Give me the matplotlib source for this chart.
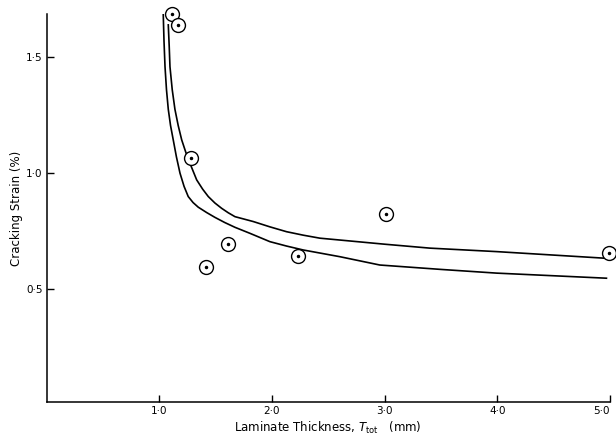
import matplotlib
matplotlib.use("Agg")
import matplotlib.pyplot as plt

# Data
pts_x = [1.113, 1.163, 1.281, 1.412, 1.61, 2.233, 3.011, 4.99]
pts_y = [1.687, 1.641, 1.066, 0.592, 0.694, 0.643, 0.823, 0.654]

upper_x = [1.080, 1.088, 1.095, 1.115, 1.139, 1.168, 1.199, 1.235, 1.272, 1.332,
           1.385, 1.435, 1.494, 1.554, 1.612, 1.672, 1.834, 1.982,
           2.130, 2.278, 2.426, 2.603, 3.000, 3.402, 3.994, 4.970]
upper_y = [1.640, 1.550, 1.459, 1.360, 1.275, 1.205, 1.143, 1.090, 1.042, 0.970,
           0.930, 0.898, 0.870, 0.847, 0.828, 0.811, 0.790, 0.767,
           0.746, 0.731, 0.718, 0.710, 0.692, 0.675, 0.660, 0.631]

lower_x = [1.035, 1.042, 1.051, 1.064, 1.080, 1.100, 1.124, 1.152, 1.184, 1.220,
           1.257, 1.300, 1.346, 1.420, 1.494, 1.580, 1.672, 1.805,
           1.982, 2.130, 2.278, 2.603, 2.958, 3.500, 3.994, 4.970]
lower_y = [1.690, 1.570, 1.459, 1.360, 1.275, 1.205, 1.143, 1.070, 0.999, 0.942,
           0.898, 0.872, 0.852, 0.829, 0.808, 0.786, 0.765, 0.739,
           0.703, 0.684, 0.667, 0.638, 0.602, 0.583, 0.567, 0.545]

xticks = [1.0, 2.0, 3.0, 4.0, 5.0]
xticklabels = ["1·0", "2·0", "3·0", "4·0", "5·0"]
yticks = [0.5, 1.0, 1.5]
yticklabels = ["0·5", "1·0", "1·5"]

fig = plt.figure(figsize=(6.16, 4.46), dpi=100)
ax = fig.add_axes([0.0757, 0.0987, 0.9143, 0.8699])

ax.plot(upper_x, upper_y, color="black", lw=1.2, solid_joinstyle="round")
ax.plot(lower_x, lower_y, color="black", lw=1.2, solid_joinstyle="round")
ax.plot(pts_x, pts_y, linestyle="none", marker="o", markersize=10,
        markerfacecolor="white", markeredgecolor="black", markeredgewidth=1.0,
        clip_on=False, zorder=3)
ax.plot(pts_x, pts_y, linestyle="none", marker="o", markersize=1.5,
        color="black", clip_on=False, zorder=4)

ax.set_xlim(0, 5.0)
ax.set_ylim(0.01, 1.687)
ax.spines["top"].set_visible(False)
ax.spines["right"].set_visible(False)
ax.spines["left"].set_linewidth(1.1)
ax.spines["bottom"].set_linewidth(1.1)

ax.set_xticks(xticks)
ax.set_xticklabels(xticklabels)
ax.set_yticks(yticks)
ax.set_yticklabels(yticklabels)
ax.tick_params(direction="in", length=5, width=1.0, labelsize=7.5, pad=3)
ax.get_xticklabels()[-1].set_horizontalalignment("right")

ax.set_xlabel(r"Laminate Thickness, $T_{\mathrm{tot}}$   (mm)", fontsize=8.5, labelpad=3)
ax.set_ylabel("Cracking Strain (%)", fontsize=8.5, labelpad=2)

fig.savefig("out.png", dpi=100)
